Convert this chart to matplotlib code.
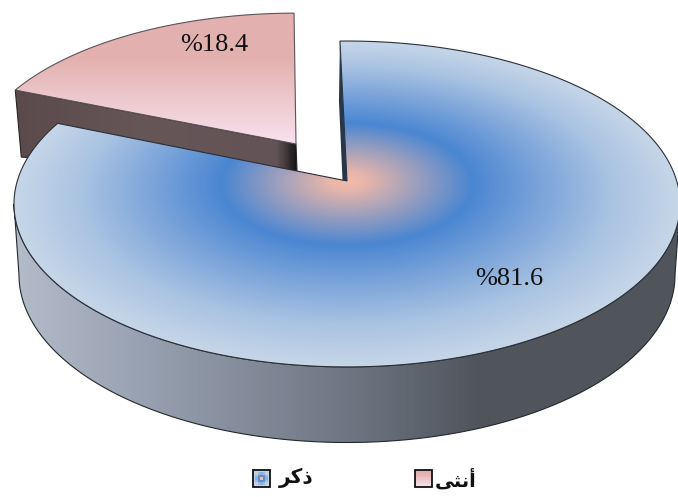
import numpy as np
import matplotlib
matplotlib.use("Agg")
import matplotlib.pyplot as plt
from matplotlib.patches import Polygon, Rectangle
from matplotlib.colors import LinearSegmentedColormap as LSC

# ---- data
categories = ["ذكر", "أنثى"]
values = [81.6, 18.4]
# visual-order Arabic presentation forms (matplotlib has no text shaping)
shaped = {"ذكر": "\uFEAE\uFEDB\uFEAB", "أنثى": "\uFEF0\uFE9C\uFEE7\uFE83"}

# ---- projection parameters (pixels)
W, H = 678, 497
CX, CY, A, B, P = 347.0, 181.0, 329.7, 159.7, 0.141
START = -1.4
WALL_D, WALL_SX, WALL_SY = 70.0, 0.985, 1.03
PX, PY, PSX, PSY = 296.0, 144.0, 0.97, 0.935
PINK_SKEW = 1.0

def proj(r, deg):
    t = np.radians(deg)
    X, Y = r * np.sin(t), r * np.cos(t)
    d = 1 + P * Y
    return A * X / d, -B * Y / d

def rim(t0, t1, n=240):
    return proj(1.0, np.linspace(t0, t1, n))

fig = plt.figure(figsize=(W / 100, H / 100), dpi=100)
ax = fig.add_axes([0, 0, 1, 1])
ax.set_xlim(0, W)
ax.set_ylim(H, 0)
ax.axis("off")
ext = (0, W, H, 0)
xx, yy = np.meshgrid(np.arange(W) + .5, np.arange(H) + .5)

def fill(grad, cmap, pts, z, vmin=0, vmax=1, ec="#3c4048", lw=0.8):
    poly = Polygon(pts, closed=True, fc="none", ec=ec, lw=lw, zorder=z + .1)
    ax.add_patch(poly)
    im = ax.imshow(grad, extent=ext, cmap=cmap, vmin=vmin, vmax=vmax,
                   zorder=z, aspect="auto", interpolation="bilinear")
    im.set_clip_path(poly)

total = sum(values)
span_blue = 360 * values[0] / total
span_pink = 360 * values[1] / total
b0, b1 = START, START + span_blue
p0, p1 = b1, b1 + span_pink + PINK_SKEW

# ---- exploded pink slice
ax_, ay_ = rim(p0, p1)
ax_ = PX + PSX * ax_
ay_ = PY + PSY * ay_
lx, ly = ax_[0], ay_[0]
pink_cm = LSC.from_list("p", [(0, "#e2b0ae"), (.33, "#e2b0ae"), (1, "#f8e2ee")])
pink_top = np.column_stack([np.r_[PX, ax_], np.r_[PY, ay_]])
wall_pts = [(lx, ly), (PX, PY), (PX + 1, PY + 27), (lx + 6, ly + 67)]
wall_cm = LSC.from_list("w", [(0, "#5a4a4c"), (.45, "#665658"), (.93, "#635356"),
                              (.97, "#3a3233"), (1, "#141414")])
fill(xx, wall_cm, wall_pts, 2, vmin=lx, vmax=PX + 1, ec="#2a2428")
fill(yy, pink_cm, pink_top, 3, vmin=ay_.min(), vmax=PY, ec="#5c5458")

# ---- blue wall (front rim): lower outline is a displaced, rescaled rim,
# joined to the upper rim at the left and right extremes
wx, wy = rim(60, 300, 480)
i0, i1 = int(np.argmax(wx)), int(np.argmin(wx))
wx, wy = wx[i0:i1 + 1], wy[i0:i1 + 1]
lowx = CX + WALL_SX * wx
lowy = CY + WALL_SY * wy + WALL_D
wall_poly = np.column_stack([np.r_[CX + wx, lowx[::-1]], np.r_[CY + wy, lowy[::-1]]])
rim_cm = LSC.from_list("r", [(0, "#b4bcca"), (.18, "#9aa3b3"), (.5, "#6f7784"),
                             (.7, "#50555d"), (1, "#50565c")])
fill(xx, rim_cm, wall_poly, 4, vmin=12, vmax=678, ec="#24272c")

# ---- blue top with radial gradient computed in disk coordinates
yv = (CY - yy) / B
Yd = yv / (1 - P * yv)
Xd = (xx - CX) / A * (1 + P * Yd)
rad = np.hypot(Xd, Yd)
top_cm = LSC.from_list("t", [(0, "#f2bca8"), (.05, "#eab6aa"), (.38, "#4a86d2"),
                             (.6, "#7ea6da"), (.8, "#a9c3e2"), (1, "#c6d6e8")])
bx, by = rim(b0, b1, 400)
top_pts = np.column_stack([np.r_[CX, CX + bx], np.r_[CY, CY + by]])
fill(rad, top_cm, top_pts, 5, ec="#2a303a")

# inner radial wall (thin dark edge from the top corner to the centre)
sx, sy = proj(1.0, b0)
ax.add_patch(Polygon([(CX + sx, CY + sy), (CX + sx - 1, CY + sy + 60),
                      (CX - 4.5, CY - 1), (CX, CY)], closed=True, fc="#28364c",
                     ec="none", zorder=6))

# ---- value labels
serif = "Liberation Serif"
ax.text(509, 279, f"%{values[0]}", family=serif, fontsize=19, ha="center",
        va="center", color="#111111", zorder=8)
ax.text(214, 45, f"%{values[1]}", family=serif, fontsize=19, ha="center",
        va="center", color="#111111", zorder=8)

# ---- legend
def swatch(x0, y0, size, rgb_grid):
    r = Rectangle((x0, y0), size, size, fc="none", ec="#111111", lw=1.3, zorder=9)
    ax.add_patch(r)
    im = ax.imshow(rgb_grid, extent=(x0, x0 + size, y0 + size, y0), zorder=8,
                   aspect="auto", interpolation="nearest")
    im.set_clip_path(r)

g = np.linspace(-1, 1, 7)
gx, gy = np.meshgrid(g, g)
swatch(252.5, 470, 17, top_cm(np.clip(np.hypot(gx, gy), 0, 1)))
swatch(414.5, 470, 17, pink_cm(np.linspace(.2, 1, 12))[:, None, :])
ax.set_xlim(0, W)
ax.set_ylim(H, 0)

lab = ["DejaVu Sans"]
ax.text(296, 478, shaped[categories[0]], family=lab, fontweight="bold",
        fontsize=14.5, ha="center", va="center", color="#111111", zorder=8)
ax.text(456, 480, shaped[categories[1]], family=lab, fontweight="bold",
        fontsize=14, ha="center", va="center", color="#111111", zorder=8)

fig.savefig("out.png", dpi=100, facecolor="white")
